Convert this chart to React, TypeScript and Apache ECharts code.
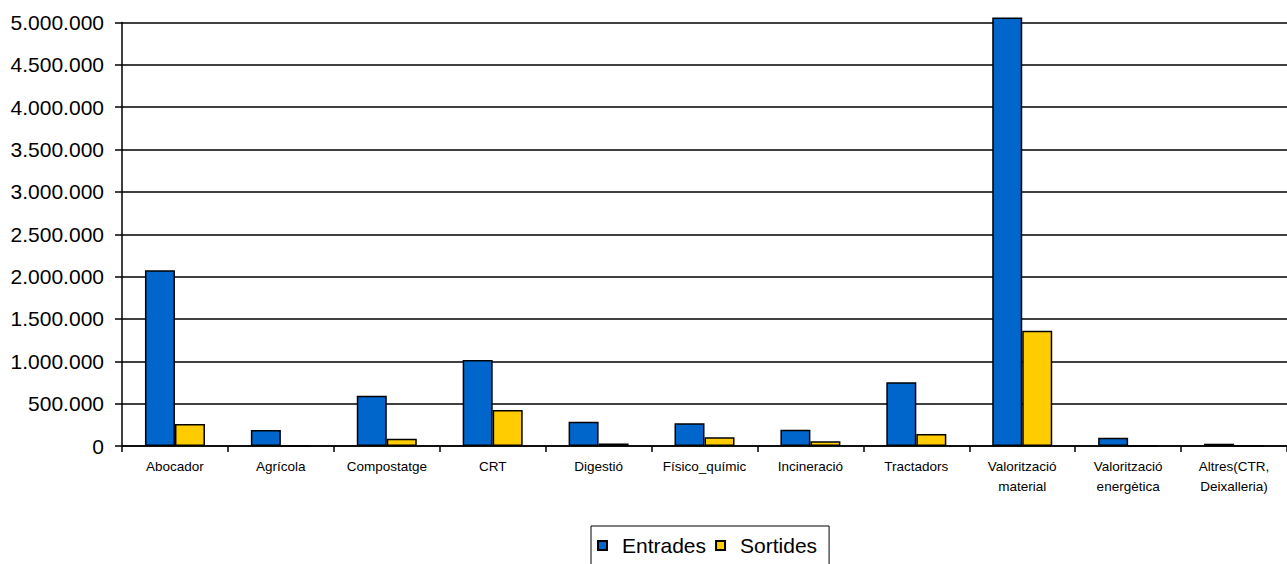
import React, { useEffect, useRef } from "react";
import * as echarts from "echarts";

const categories = [
  "Abocador",
  "Agrícola",
  "Compostatge",
  "CRT",
  "Digestió",
  "Físico_químic",
  "Incineració",
  "Tractadors",
  "Valorització\nmaterial",
  "Valorització\nenergètica",
  "Altres(CTR,\nDeixalleria)",
];
const entrades = [2075000, 189000, 594000, 1015000, 287000, 268000, 192000, 752000, 5060000, 98000, 27000];
const sortides = [260000, 0, 86000, 425000, 30000, 103000, 55000, 142000, 1360000, 0, 0];
const seriesNames = ["Entrades", "Sortides"];
const yMax = 5000000;
const yInterval = 500000;

function fmt(v: number): string {
  return String(Math.round(v)).replace(/\B(?=(\d{3})+(?!\d))/g, ".");
}

export default function App() {
  const ref = useRef<HTMLDivElement>(null);
  useEffect(() => {
    if (!ref.current) return;
    const chart = echarts.init(ref.current, undefined, { renderer: "svg" });
    const font = "'Liberation Sans', Arial, sans-serif";
    chart.setOption({
      animation: false,
      textStyle: { fontFamily: font },
      grid: { left: 122, right: 0, top: 22.5, bottom: 118, containLabel: false },
      legend: {
        data: seriesNames,
        left: 591,
        top: 526,
        orient: "horizontal",
        icon: "rect",
        itemWidth: 9,
        itemHeight: 9,
        itemGap: 9,
        padding: [9, 12, 20, 6],
        borderColor: "#000",
        borderWidth: 1,
        textStyle: { fontSize: 21, color: "#000", fontFamily: font, padding: [0, 0, 0, 10] },
      },
      xAxis: {
        type: "category",
        data: categories,
        axisLine: { show: true, lineStyle: { color: "#000", width: 1.5 } },
        axisTick: { show: true, length: 6, lineStyle: { color: "#000", width: 1.5 } },
        axisLabel: { fontSize: 13.5, color: "#000", margin: 10, lineHeight: 20, interval: 0, fontFamily: font },
      },
      yAxis: {
        type: "value",
        min: 0,
        max: yMax,
        interval: yInterval,
        axisLine: { show: true, lineStyle: { color: "#000", width: 1.5 } },
        axisTick: { show: true, length: 7, lineStyle: { color: "#000", width: 1.5 } },
        splitLine: { show: true, lineStyle: { color: "#000", width: 1.5 } },
        axisLabel: { fontSize: 21, color: "#000", margin: 18, formatter: (v: number) => fmt(v), fontFamily: font },
      },
      series: [
        {
          name: seriesNames[0],
          type: "bar",
          data: entrades,
          barWidth: 30,
          barGap: "0%",
          clip: false,
          itemStyle: { color: "#0066CC", borderColor: "#000", borderWidth: 1.5 },
        },
        {
          name: seriesNames[1],
          type: "bar",
          data: sortides,
          barWidth: 30,
          barGap: "0%",
          clip: false,
          itemStyle: { color: "#FFCC00", borderColor: "#000", borderWidth: 1.5 },
        },
      ],
    });
    return () => chart.dispose();
  }, []);
  return (
    <div
      ref={ref}
      style={{ position: "fixed", left: 0, top: 0, width: 1287, height: 564, background: "#fff" }}
    />
  );
}
